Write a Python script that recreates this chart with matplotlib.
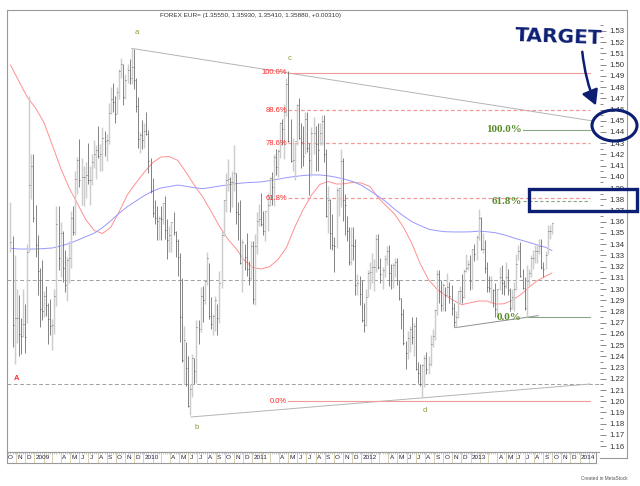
import numpy as np
import pandas as pd
import matplotlib
matplotlib.use('Agg')
import matplotlib.pyplot as plt
import matplotlib.dates as mdates
from matplotlib.patches import Ellipse, Rectangle, FancyArrowPatch

plt.rcParams['font.family'] = ['Liberation Sans', 'DejaVu Sans']

# weekly EUR= bars, first week starts 13 Oct 2008
week_start = '2008-10-13'
first_open = 1.3410

high = [
    # 2008
    1.3780, 1.3470, 1.3300, 1.3000, 1.2950, 1.2740, 1.3000, 1.2870, 1.3400, 1.4720, 1.4200, 1.4200,
    # 2009
    1.3750, 1.3480, 1.3190, 1.3260, 1.2980, 1.3030, 1.2880, 1.2910, 1.2730, 1.3000,
    1.3740, 1.3740, 1.3600, 1.3520, 1.3350, 1.3290, 1.3430, 1.3700, 1.3740, 1.4050,
    1.4180, 1.4340, 1.4170, 1.4100, 1.4130, 1.4300, 1.4100, 1.4200, 1.4330, 1.4280,
    1.4450, 1.4290, 1.4440, 1.4410, 1.4380, 1.4660, 1.4800, 1.4840, 1.4720, 1.4800,
    1.4960, 1.5060, 1.5010, 1.4920, 1.5010, 1.5050, 1.5145, 1.5140, 1.4880, 1.4710,
    1.4400, 1.4510,
    # 2010
    1.4480, 1.4580, 1.4420, 1.4170, 1.3990, 1.3790, 1.3740, 1.3650, 1.3740, 1.3770,
    1.3830, 1.3620, 1.3560, 1.3600, 1.3690, 1.3520, 1.3450, 1.3320, 1.3100, 1.2670,
    1.2530, 1.2400, 1.2150, 1.2420, 1.2390, 1.2720, 1.2720, 1.3020, 1.3030, 1.3080,
    1.3330, 1.3230, 1.2930, 1.2780, 1.2940, 1.2870, 1.3160, 1.3520, 1.3790, 1.4030,
    1.4160, 1.4000, 1.4050, 1.4282, 1.4030, 1.3780, 1.3790, 1.3450, 1.3400, 1.3500,
    1.3250, 1.3430,
    # 2011
    1.3430, 1.3490, 1.3690, 1.3760, 1.3860, 1.3700, 1.3700, 1.3860, 1.4000, 1.4040,
    1.4200, 1.4250, 1.4250, 1.4490, 1.4520, 1.4650, 1.4880, 1.4940, 1.4520, 1.4350,
    1.4300, 1.4650, 1.4700, 1.4480, 1.4450, 1.4580, 1.4580, 1.4300, 1.4440, 1.4530,
    1.4450, 1.4480, 1.4480, 1.4550, 1.4550, 1.4250, 1.3920, 1.3800, 1.3670, 1.3460,
    1.3910, 1.3900, 1.4250, 1.4170, 1.3850, 1.3650, 1.3550, 1.3550, 1.3550, 1.3450,
    1.3130, 1.3120,
    # 2012
    1.3080, 1.2880, 1.3000, 1.3170, 1.3240, 1.3320, 1.3270, 1.3490, 1.3490, 1.3280,
    1.3200, 1.3300, 1.3380, 1.3390, 1.3220, 1.3230, 1.3280, 1.3280, 1.3080, 1.2920,
    1.2820, 1.2540, 1.2630, 1.2670, 1.2750, 1.2700, 1.2750, 1.2350, 1.2330, 1.2330,
    1.2410, 1.2440, 1.2400, 1.2590, 1.2640, 1.2820, 1.3170, 1.3170, 1.3080, 1.3050,
    1.3020, 1.3140, 1.3060, 1.3040, 1.2880, 1.2800, 1.2980, 1.3030, 1.3130, 1.3180,
    1.3310, 1.3260, 1.3300,
    # 2013
    1.3360, 1.3400, 1.3480, 1.3711, 1.3640, 1.3500, 1.3440, 1.3240, 1.3120, 1.3120,
    1.3000, 1.3050, 1.3000, 1.3200, 1.3210, 1.3080, 1.3240, 1.3180, 1.3010, 1.3000,
    1.3060, 1.3310, 1.3390, 1.3420, 1.3180, 1.3110, 1.3210, 1.3180, 1.3300, 1.3350,
    1.3390, 1.3400, 1.3450, 1.3450, 1.3240, 1.3340, 1.3570, 1.3570, 1.3593,
]

low = [
    # 2008
    1.3330, 1.2480, 1.2330, 1.2520, 1.2400, 1.2420, 1.2570, 1.2430, 1.2700, 1.3330, 1.3800, 1.3600,
    # 2009
    1.3290, 1.2950, 1.2660, 1.2720, 1.2750, 1.2760, 1.2510, 1.2590, 1.2460, 1.2600,
    1.2850, 1.3170, 1.3110, 1.3060, 1.2970, 1.2890, 1.3050, 1.3190, 1.3480, 1.3480,
    1.3850, 1.3910, 1.3750, 1.3740, 1.3810, 1.3940, 1.3750, 1.3930, 1.4080, 1.3980,
    1.4170, 1.4050, 1.4050, 1.4190, 1.4140, 1.4290, 1.4560, 1.4580, 1.4480, 1.4560,
    1.4690, 1.4880, 1.4640, 1.4690, 1.4840, 1.4830, 1.4830, 1.4780, 1.4580, 1.4260,
    1.4210, 1.4250,
    # 2010
    1.4260, 1.4370, 1.4030, 1.3860, 1.3640, 1.3580, 1.3440, 1.3440, 1.3440, 1.3580,
    1.3450, 1.3270, 1.3330, 1.3330, 1.3480, 1.3290, 1.3120, 1.2530, 1.2350, 1.2150,
    1.2140, 1.1950, 1.1876, 1.2040, 1.2150, 1.2160, 1.2510, 1.2620, 1.2710, 1.2870,
    1.3040, 1.2730, 1.2640, 1.2590, 1.2630, 1.2590, 1.2700, 1.3010, 1.3470, 1.3690,
    1.3870, 1.3690, 1.3730, 1.3870, 1.3580, 1.3440, 1.3220, 1.2970, 1.3170, 1.3120,
    1.3040, 1.3080,
    # 2011
    1.2870, 1.2860, 1.3310, 1.3560, 1.3560, 1.3480, 1.3430, 1.3520, 1.3740, 1.3750,
    1.3740, 1.4020, 1.4000, 1.4170, 1.4280, 1.4160, 1.4540, 1.4310, 1.4130, 1.4050,
    1.3970, 1.4280, 1.4340, 1.4080, 1.4100, 1.4200, 1.4220, 1.3840, 1.4010, 1.4200,
    1.4050, 1.4050, 1.4280, 1.4280, 1.4130, 1.3640, 1.3500, 1.3360, 1.3350, 1.3150,
    1.3370, 1.3650, 1.3730, 1.3610, 1.3480, 1.3430, 1.3210, 1.3210, 1.3260, 1.2950,
    1.2950, 1.2860,
    # 2012
    1.2710, 1.2620, 1.2670, 1.2930, 1.3000, 1.3050, 1.2980, 1.3150, 1.3180, 1.3050,
    1.3000, 1.3110, 1.3210, 1.3030, 1.3000, 1.3010, 1.3110, 1.3040, 1.2900, 1.2640,
    1.2500, 1.2290, 1.2380, 1.2440, 1.2510, 1.2400, 1.2280, 1.2160, 1.2140, 1.2042,
    1.2130, 1.2240, 1.2240, 1.2310, 1.2480, 1.2550, 1.2770, 1.2880, 1.2800, 1.2800,
    1.2800, 1.2930, 1.2880, 1.2770, 1.2660, 1.2660, 1.2740, 1.2880, 1.2880, 1.2920,
    1.3150, 1.3170, 1.2990,
    # 2013
    1.3000, 1.3250, 1.3260, 1.3440, 1.3350, 1.3320, 1.3140, 1.2970, 1.2970, 1.2880,
    1.2840, 1.2750, 1.2750, 1.2990, 1.2960, 1.2950, 1.3010, 1.2950, 1.2800, 1.2820,
    1.2800, 1.2990, 1.3260, 1.3110, 1.3000, 1.2810, 1.2750, 1.3030, 1.3110, 1.3180,
    1.3230, 1.3230, 1.3310, 1.3180, 1.3110, 1.3180, 1.3310, 1.3450, 1.3495,
]

close = [
    # 2008
    1.3420, 1.2680, 1.2740, 1.2740, 1.2600, 1.2580, 1.2690, 1.2570, 1.3330, 1.3930, 1.4100, 1.3630,
    # 2009
    1.3390, 1.3160, 1.2820, 1.2800, 1.2940, 1.2860, 1.2730, 1.2670, 1.2680, 1.2940,
    1.3580, 1.3280, 1.3500, 1.3190, 1.3040, 1.3260, 1.3280, 1.3630, 1.3510, 1.3980,
    1.4150, 1.3970, 1.4000, 1.4000, 1.4020, 1.3970, 1.3970, 1.4130, 1.4200, 1.4240,
    1.4190, 1.4200, 1.4350, 1.4320, 1.4330, 1.4570, 1.4690, 1.4670, 1.4560, 1.4760,
    1.4940, 1.5010, 1.4710, 1.4860, 1.4950, 1.4880, 1.4980, 1.4860, 1.4630, 1.4340,
    1.4370, 1.4330,
    # 2010
    1.4410, 1.4380, 1.4140, 1.3870, 1.3680, 1.3630, 1.3610, 1.3630, 1.3620, 1.3770,
    1.3530, 1.3440, 1.3480, 1.3600, 1.3510, 1.3430, 1.3290, 1.2750, 1.2370, 1.2550,
    1.2300, 1.1960, 1.2110, 1.2390, 1.2270, 1.2660, 1.2640, 1.2940, 1.2900, 1.3070,
    1.3280, 1.2760, 1.2690, 1.2760, 1.2900, 1.2740, 1.3050, 1.3480, 1.3790, 1.3970,
    1.3980, 1.3950, 1.3950, 1.4030, 1.3690, 1.3670, 1.3230, 1.3420, 1.3290, 1.3180,
    1.3100, 1.3380,
    # 2011
    1.2910, 1.3380, 1.3610, 1.3620, 1.3580, 1.3520, 1.3700, 1.3750, 1.3990, 1.3910,
    1.4180, 1.4090, 1.4230, 1.4480, 1.4430, 1.4580, 1.4830, 1.4320, 1.4140, 1.4150,
    1.4320, 1.4640, 1.4350, 1.4310, 1.4190, 1.4520, 1.4260, 1.4150, 1.4390, 1.4390,
    1.4290, 1.4240, 1.4390, 1.4500, 1.4200, 1.3650, 1.3790, 1.3500, 1.3390, 1.3380,
    1.3880, 1.3900, 1.4140, 1.3790, 1.3750, 1.3520, 1.3240, 1.3390, 1.3380, 1.3040,
    1.3050, 1.2960,
    # 2012
    1.2720, 1.2680, 1.2930, 1.3140, 1.3150, 1.3200, 1.3200, 1.3450, 1.3200, 1.3130,
    1.3170, 1.3270, 1.3340, 1.3140, 1.3080, 1.3210, 1.3240, 1.3080, 1.2920, 1.2780,
    1.2520, 1.2430, 1.2560, 1.2640, 1.2570, 1.2670, 1.2290, 1.2250, 1.2150, 1.2320,
    1.2390, 1.2290, 1.2330, 1.2510, 1.2580, 1.2810, 1.3130, 1.2980, 1.2860, 1.3040,
    1.2950, 1.3020, 1.2940, 1.2830, 1.2710, 1.2750, 1.2980, 1.2980, 1.2930, 1.3160,
    1.3190, 1.3220, 1.3070,
    # 2013
    1.3360, 1.3310, 1.3460, 1.3630, 1.3360, 1.3360, 1.3190, 1.3020, 1.3010, 1.3080,
    1.2990, 1.2820, 1.3000, 1.3110, 1.3050, 1.3030, 1.3110, 1.2990, 1.2830, 1.2930,
    1.3000, 1.3220, 1.3340, 1.3120, 1.3010, 1.2830, 1.3070, 1.3140, 1.3280, 1.3280,
    1.3340, 1.3340, 1.3380, 1.3200, 1.3180, 1.3300, 1.3520, 1.3520, 1.3588,
]

# moving averages read every 4th week (plus the last week)
ma_red = [
    1.4997, 1.4854, 1.4712, 1.4614, 1.4485, 1.4284, 1.4079, 1.3905, 1.3762, 1.3620,
    1.3523, 1.3495, 1.3551, 1.3689, 1.3843, 1.3945, 1.4041, 1.4126, 1.4177, 1.4181,
    1.4147, 1.4041, 1.3925, 1.3820, 1.3692, 1.3558, 1.3445, 1.3359, 1.3254, 1.3191,
    1.3179, 1.3199, 1.3264, 1.3368, 1.3551, 1.3707, 1.3838, 1.3932, 1.3959, 1.3936,
    1.3939, 1.3952, 1.3944, 1.3913, 1.3812, 1.3737, 1.3663, 1.3551, 1.3409, 1.3227,
    1.3084, 1.3000, 1.2944, 1.2898, 1.2861, 1.2878, 1.2894, 1.2893, 1.2866, 1.2869,
    1.2898, 1.2949, 1.3015, 1.3075, 1.3114, 1.3143,
]
ma_blue = [
    1.3364, 1.3357, 1.3357, 1.3357, 1.3361, 1.3366, 1.3383, 1.3406, 1.3435, 1.3467,
    1.3497, 1.3547, 1.3609, 1.3676, 1.3735, 1.3784, 1.3833, 1.3873, 1.3902, 1.3913,
    1.3927, 1.3916, 1.3903, 1.3895, 1.3906, 1.3918, 1.3928, 1.3940, 1.3947, 1.3951,
    1.3955, 1.3967, 1.3979, 1.3993, 1.4003, 1.4012, 1.4017, 1.4017, 1.4009, 1.3996,
    1.3978, 1.3957, 1.3924, 1.3877, 1.3827, 1.3773, 1.3708, 1.3652, 1.3601, 1.3566,
    1.3534, 1.3520, 1.3511, 1.3509, 1.3509, 1.3510, 1.3516, 1.3511, 1.3502, 1.3484,
    1.3460, 1.3438, 1.3416, 1.3394, 1.3372, 1.3344,
]

# swing points a, b, c, d
wave_names = ['a', 'b', 'c', 'd']
wave_dates = ['2009-11-23', '2010-06-07', '2011-05-02', '2012-07-23']
wave_prices = [1.5145, 1.1876, 1.4940, 1.2042]

# trend lines (start date, start price, end date, end price)
trend_lines = [
    ('2009-11-23', 1.5145, '2014-02-15', 1.4498),
    ('2010-06-10', 1.1860, '2014-02-05', 1.2154),
    ('2012-11-10', 1.2656, '2013-08-15', 1.2763),
]
support_levels = [1.3081, 1.2154]

# fibonacci projections
red_fib_low, red_fib_high = 1.2002, 1.4926
red_fib_ratios = [1.0, 0.886, 0.786, 0.618, 0.0]
red_fib_span = ('2011-04-30', '2014-02-05')
green_fib_low, green_fib_high = 1.2749, 1.4418
green_fib_ratios = [1.0, 0.618, 0.0]
green_fib_span = ('2013-06-25', '2014-02-05')

title = 'FOREX EUR= (1.35550, 1.35930, 1.35410, 1.35880, +0.00310)'

# ---------------------------------------------------------------- layout
W, H = 640, 486
fig = plt.figure(figsize=(W / 100, H / 100), dpi=100)


def box(x0, y0, x1, y1):
    return [x0 / W, 1 - y1 / H, (x1 - x0) / W, (y1 - y0) / H]


ax = fig.add_axes(box(6.7, 10, 600, 452))
band = fig.add_axes(box(6.7, 452, 596, 463))
axr = fig.add_axes(box(600, 10, 627, 458))

# pixel calibration of the date / price scales
d0 = mdates.date2num(np.datetime64('2009-11-23'))
ppd = 0.2986


def px_date(x):
    return d0 + (x - 131.7) / ppd


def px_price(y):
    return 1.53 - (y - 31) / 1122


ax.set_xlim(px_date(6.7), px_date(600))
band.set_xlim(px_date(6.7), px_date(596))
ax.set_ylim(px_price(452), px_price(10))
axr.set_ylim(px_price(458), px_price(10))

frame = '#9a9a9a'
for a in (ax, band, axr):
    for s in a.spines.values():
        s.set_color(frame)
        s.set_linewidth(0.8)
ax.spines['right'].set_visible(False)
axr.spines['left'].set_visible(False)
ax.set_xticks([])
ax.set_yticks([])

# ---------------------------------------------------------------- bars
dates = pd.date_range(week_start, periods=len(close), freq='7D').to_numpy()
hi = np.array(high)
lo = np.array(low)
cl = np.array(close)
op = np.r_[first_open, cl[:-1]]
up = cl >= op
ax.vlines(dates[up], lo[up], hi[up], color='#cdcdcd', lw=1.05, zorder=3)
ax.vlines(dates[~up], lo[~up], hi[~up], color='#7a7a7a', lw=0.65, zorder=4)
ax.plot(dates, cl, ls='none', marker=1, ms=1.0, mew=0.5, color='#444444', zorder=5)

ma_dates = np.r_[dates[::4], dates[-1:]]
ax.plot(ma_dates, ma_red, color='#ff9090', lw=0.7, zorder=2)
ax.plot(ma_dates, ma_blue, color='#9898ff', lw=0.7, zorder=2)

# ---------------------------------------------------------------- studies
for lvl in support_levels:
    ax.axhline(lvl, color='#a0a0a0', lw=0.7, dashes=(4, 2.5), zorder=1)

for i, (da, pa, db, pb) in enumerate(trend_lines):
    ax.plot([np.datetime64(da), np.datetime64(db)], [pa, pb],
            color='#909090' if i == 2 else '#b4b4b4', lw=0.7, zorder=2)

rs, re_ = np.datetime64(red_fib_span[0]), np.datetime64(red_fib_span[1])
for r in red_fib_ratios:
    lvl = red_fib_low + r * (red_fib_high - red_fib_low)
    solid = r in (0.0, 1.0)
    ax.plot([rs, re_], [lvl, lvl], color='#f29a9a', lw=0.8 if solid else 0.9,
            dashes=() if solid else (3, 2), zorder=2)
    ax.annotate(f'{r * 100:.1f}%', (rs, lvl), xytext=(-1, 0), textcoords='offset pixels',
                ha='right', va='center', color='#ff2a2a', fontsize=5.5, zorder=6)

gs, ge = np.datetime64(green_fib_span[0]), np.datetime64(green_fib_span[1])
for r in green_fib_ratios:
    lvl = green_fib_low + r * (green_fib_high - green_fib_low)
    solid = r in (0.0, 1.0)
    ax.plot([gs, ge], [lvl, lvl], color='#8aa58a', lw=0.8,
            dashes=() if solid else (3, 2), zorder=2)
    ax.annotate(f'{r * 100:.1f}%', (gs, lvl), xytext=(-1, 0), textcoords='offset pixels',
                ha='right', va='center', color='#5b8c2e', fontsize=8,
                family=['Liberation Serif', 'DejaVu Serif'], weight='bold', zorder=6)

wave_offsets = {'a': (5, 16), 'b': (6, -12), 'c': (1, 13), 'd': (3, -14)}
for n, d, p in zip(wave_names, wave_dates, wave_prices):
    ax.annotate(n, (np.datetime64(d), p), xytext=wave_offsets[n], textcoords='offset pixels',
                ha='center', va='center', color='#8c9a3a', fontsize=5.5, zorder=6)

ax.text(np.datetime64('2008-11-01'), 1.2207, 'A', color='#ff3030', fontsize=5.5,
        weight='bold', ha='center', va='center', zorder=6)

# ---------------------------------------------------------------- price scale
price_ticks = np.round(np.arange(1.16, 1.5351, 0.01), 2)
axr.set_xticks([])
axr.set_yticks(price_ticks)
axr.set_yticklabels([f'{t:.2f}' for t in price_ticks])
axr.set_yticks(np.round(np.arange(1.165, 1.536, 0.01), 3), minor=True)
axr.tick_params(axis='y', which='both', left=True, right=False, labelleft=False,
                labelright=True, direction='in', color='#888888', labelcolor='#333333',
                labelsize=5.6, pad=-13, width=0.7)
axr.tick_params(axis='y', which='major', length=4)
axr.tick_params(axis='y', which='minor', length=2)

# ---------------------------------------------------------------- date band
band.set_ylim(0, 1)
band.set_yticks([])
band.set_xticks([])
band.xaxis.set_minor_locator(mdates.WeekdayLocator(byweekday=mdates.MO))
band.tick_params(axis='x', which='minor', top=True, bottom=False, direction='in',
                 length=1.5, color='#b0b0b0', width=0.5)
months = pd.date_range('2008-10-01', '2014-02-01', freq='MS')
band.vlines(months.to_numpy(), 0, 1, color='#cbbf90', lw=0.5)
letters = 'JFMAMJJASOND'
for m in months:
    if m.month in (2, 3):
        continue
    lab = str(m.year) if m.month == 1 else letters[m.month - 1]
    band.annotate(lab, (np.datetime64(m.date()), 0.5), xytext=(1.2, 0),
                  textcoords='offset pixels', ha='left', va='center',
                  fontsize=4.6, color='#222244', annotation_clip=True, clip_on=True)

# ---------------------------------------------------------------- texts
fig.text(251 / W, 1 - 16 / H, title, ha='center', va='center', fontsize=4.6, color='#333333')
fig.text(628 / W, 1 - 478 / H, 'Created in MetaStock', ha='right', va='center',
         fontsize=3.4, color='#555555')

# hand-drawn markup
navy = '#0c1f73'
fig.text(559 / W, 1 - 37 / H, 'TARGET', ha='center', va='center', fontsize=14.5,
         weight='bold', color=navy, family='DejaVu Sans', rotation=-2)
fig.add_artist(FancyArrowPatch((582 / W, 1 - 49 / H), (597 / W, 1 - 108 / H),
                               transform=fig.transFigure, connectionstyle='arc3,rad=0.08',
                               arrowstyle='-|>,head_length=0.9,head_width=0.5',
                               mutation_scale=10, lw=1.8, color=navy))
fig.add_artist(Ellipse((614.5 / W, 1 - 125.5 / H), 45 / W, 31 / H, transform=fig.transFigure,
                       fill=False, ec=navy, lw=2.2))
fig.add_artist(Rectangle((529 / W, 1 - 211 / H), 108 / W, 22 / H, transform=fig.transFigure,
                         fill=False, ec=navy, lw=2.4))

fig.savefig('out.png', dpi=100, facecolor='white')
